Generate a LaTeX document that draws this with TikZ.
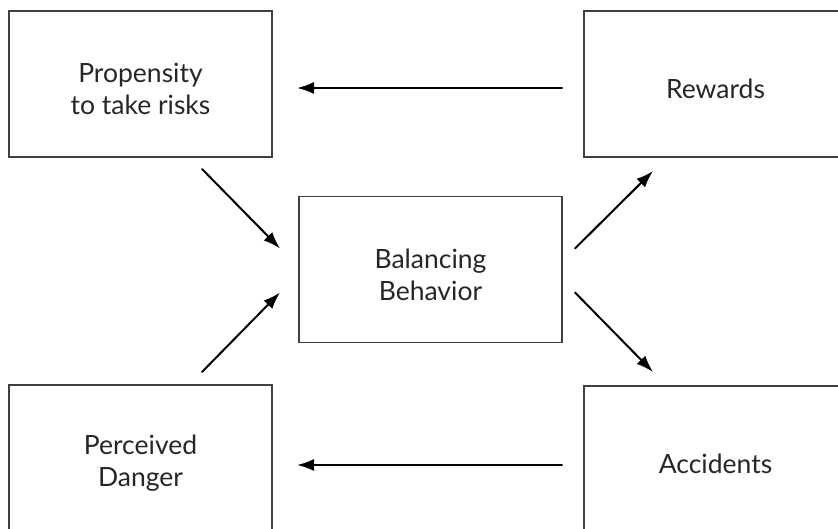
\documentclass[tikz,border=0pt]{standalone}
\usepackage{fontspec}
\setmainfont{Lato}
\usetikzlibrary{arrows.meta,calc}
\tikzset{
    factorbox/.style={
        draw=black!75, line width=1.3pt,
        minimum width=263pt, minimum height=146pt,
        inner sep=0pt, outer sep=0pt,
        label={[boxtext]center:{#1}}
    },
    boxtext/.style={
        align=center, text=black!85, yshift=-5pt,
        font=\fontsize{26.5}{32}\selectfont
    },
    flowarrow/.style={
        -{Latex[length=17pt,width=12pt]},
        line width=2pt, line cap=round
    }
}
\begin{document}
\begin{tikzpicture}[x=1pt,y=1pt]
    \useasboundingbox (0,0) rectangle (838,529);
    \clip (0,0) rectangle (838,529);
    \node[factorbox={Propensity\\to take risks}] (risk) at (140.5,445) {};
    \node[factorbox={Rewards}] (rewards) at (715.5,445) {};
    \node[factorbox={Balancing\\Behavior}] (balance) at (430.5,259.5) {};
    \node[factorbox={Perceived\\Danger}] (danger) at (140.5,71) {};
    \node[factorbox={Accidents}] (accidents) at (715.5,70) {};
    \draw[flowarrow] ($(rewards.west)+(-22,-4)$) -- ($(risk.east)+(25,-4)$);
    \draw[flowarrow] ($(accidents.west)+(-22,-6)$) -- ($(danger.east)+(25,-7)$);
    \draw[flowarrow] ($(risk.south east)+(-70,-12)$) -- ($(balance.north west)+(-19,-52)$);
    \draw[flowarrow] ($(danger.north east)+(-70,13)$) -- ($(balance.south west)+(-19,50)$);
    \draw[flowarrow] ($(balance.north east)+(13,-52)$) -- ($(rewards.south west)+(69,-14)$);
    \draw[flowarrow] ($(balance.south east)+(13,50)$) -- ($(accidents.north west)+(69,14)$);
\end{tikzpicture}
\end{document}
